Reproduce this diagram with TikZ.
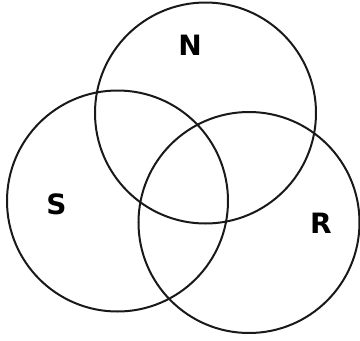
\documentclass[tikz,border=0pt]{standalone}
\usepackage{fontspec}
\setsansfont{DejaVu Sans}
\begin{document}
\begin{tikzpicture}[x=1pt,y=-1pt,
  set/.style={draw=black!90,line width=2pt},
  lbl/.style={font=\sffamily\bfseries\fontsize{28}{28}\selectfont}]
\useasboundingbox (0,0) rectangle (360,341);
% ---- the three sets ----
\draw[set] (205.5,113) circle (110.5);
\draw[set] (117.5,201) circle (110.5);
\draw[set] (249,222.5) circle (110.5);
% ---- labels ----
\node[lbl] (n) at (190,45) {N};
\node[lbl] (s) at (56.5,204) {S};
\node[lbl] (r) at (321,223) {R};
\end{tikzpicture}
\end{document}
